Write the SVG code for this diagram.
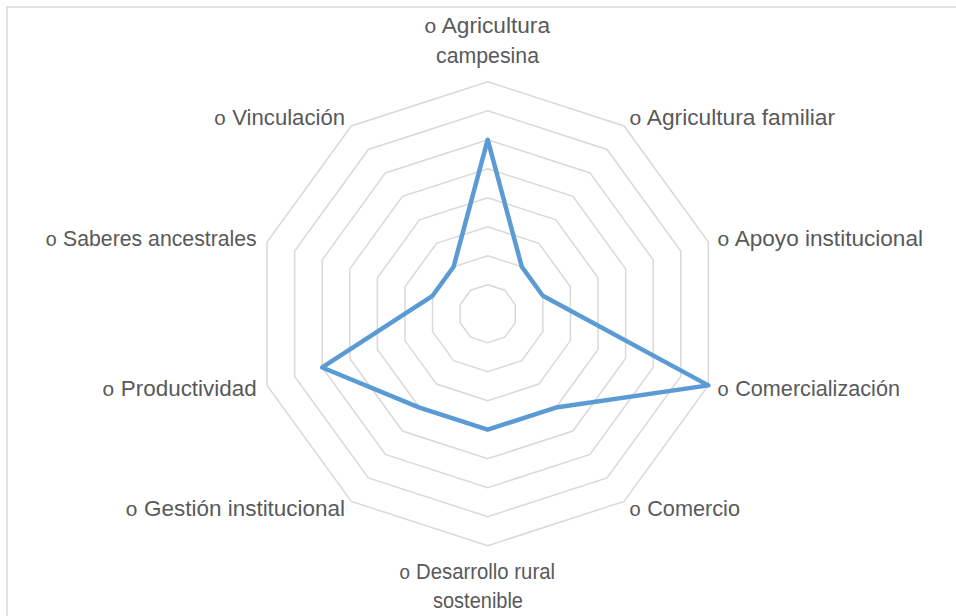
<svg xmlns="http://www.w3.org/2000/svg" width="956" height="616" viewBox="0 0 956 616">
<style>
.frame{fill:#ffffff;stroke:#d9d9d9;stroke-width:1.5}
.ring{fill:none;stroke:#d9d9d9;stroke-width:1.5}
.series{fill:none;stroke:#5b9bd5;stroke-width:4.5;stroke-linejoin:round;stroke-linecap:round}
.lbl{font-family:"Liberation Sans",Arial,sans-serif;font-size:22.5px;fill:#595959}
.b{font-family:"Liberation Mono","Courier New",monospace;font-size:21px}
</style>
<rect class="frame" x="7" y="7" width="970" height="640"/>
<g id="grid" transform="translate(487.7 313.7)">
<polygon class="ring" points="0,-29 17.046,-23.461 27.581,-8.961 27.581,8.961 17.046,23.461 0,29 -17.046,23.461 -27.581,8.961 -27.581,-8.961 -17.046,-23.461"/>
<polygon class="ring" points="0,-58 34.092,-46.923 55.161,-17.923 55.161,17.923 34.092,46.923 0,58 -34.092,46.923 -55.161,17.923 -55.161,-17.923 -34.092,-46.923"/>
<polygon class="ring" points="0,-87 51.137,-70.384 82.742,-26.884 82.742,26.884 51.137,70.384 0,87 -51.137,70.384 -82.742,26.884 -82.742,-26.884 -51.137,-70.384"/>
<polygon class="ring" points="0,-116 68.183,-93.846 110.323,-35.846 110.323,35.846 68.183,93.846 0,116 -68.183,93.846 -110.323,35.846 -110.323,-35.846 -68.183,-93.846"/>
<polygon class="ring" points="0,-145 85.229,-117.307 137.903,-44.807 137.903,44.807 85.229,117.307 0,145 -85.229,117.307 -137.903,44.807 -137.903,-44.807 -85.229,-117.307"/>
<polygon class="ring" points="0,-174 102.275,-140.769 165.484,-53.769 165.484,53.769 102.275,140.769 0,174 -102.275,140.769 -165.484,53.769 -165.484,-53.769 -102.275,-140.769"/>
<polygon class="ring" points="0,-203 119.320,-164.230 193.065,-62.730 193.065,62.730 119.320,164.230 0,203 -119.320,164.230 -193.065,62.730 -193.065,-62.730 -119.320,-164.230"/>
<polygon class="ring" points="0,-232 136.366,-187.692 220.645,-71.692 220.645,71.692 136.366,187.692 0,232 -136.366,187.692 -220.645,71.692 -220.645,-71.692 -136.366,-187.692"/>
</g>
<g id="connectors" transform="translate(487.7 313.7)">
<polygon class="series" points="0,-174 34.092,-46.923 55.161,-17.923 220.645,71.692 68.183,93.846 0,116 -68.183,93.846 -165.484,53.769 -55.161,-17.923 -34.092,-46.923"/>
</g>
<g id="n-agricultura-campesina">
<text class="lbl" x="424" y="33" textLength="126" lengthAdjust="spacingAndGlyphs"><tspan class="b">o</tspan> Agricultura</text>
<text class="lbl" x="436" y="63" textLength="103" lengthAdjust="spacingAndGlyphs">campesina</text>
</g>
<g id="n-agricultura-familiar">
<text class="lbl" x="629" y="125" textLength="206" lengthAdjust="spacingAndGlyphs"><tspan class="b">o</tspan> Agricultura familiar</text>
</g>
<g id="n-apoyo-institucional">
<text class="lbl" x="717" y="246" textLength="206" lengthAdjust="spacingAndGlyphs"><tspan class="b">o</tspan> Apoyo institucional</text>
</g>
<g id="n-comercializacion">
<text class="lbl" x="717" y="396" textLength="183" lengthAdjust="spacingAndGlyphs"><tspan class="b">o</tspan> Comercialización</text>
</g>
<g id="n-comercio">
<text class="lbl" x="629" y="516" textLength="111" lengthAdjust="spacingAndGlyphs"><tspan class="b">o</tspan> Comercio</text>
</g>
<g id="n-desarrollo-rural">
<text class="lbl" x="399" y="579" textLength="156" lengthAdjust="spacingAndGlyphs"><tspan class="b">o</tspan> Desarrollo rural</text>
<text class="lbl" x="433" y="608" textLength="90" lengthAdjust="spacingAndGlyphs">sostenible</text>
</g>
<g id="n-gestion-institucional">
<text class="lbl" x="125.3" y="516" textLength="219.7" lengthAdjust="spacingAndGlyphs"><tspan class="b">o</tspan> Gestión institucional</text>
</g>
<g id="n-productividad">
<text class="lbl" x="102" y="396" textLength="154.7" lengthAdjust="spacingAndGlyphs"><tspan class="b">o</tspan> Productividad</text>
</g>
<g id="n-saberes-ancestrales">
<text class="lbl" x="45.3" y="246" textLength="211.4" lengthAdjust="spacingAndGlyphs"><tspan class="b">o</tspan> Saberes ancestrales</text>
</g>
<g id="n-vinculacion">
<text class="lbl" x="213.7" y="125" textLength="131.3" lengthAdjust="spacingAndGlyphs"><tspan class="b">o</tspan> Vinculación</text>
</g>
</svg>
